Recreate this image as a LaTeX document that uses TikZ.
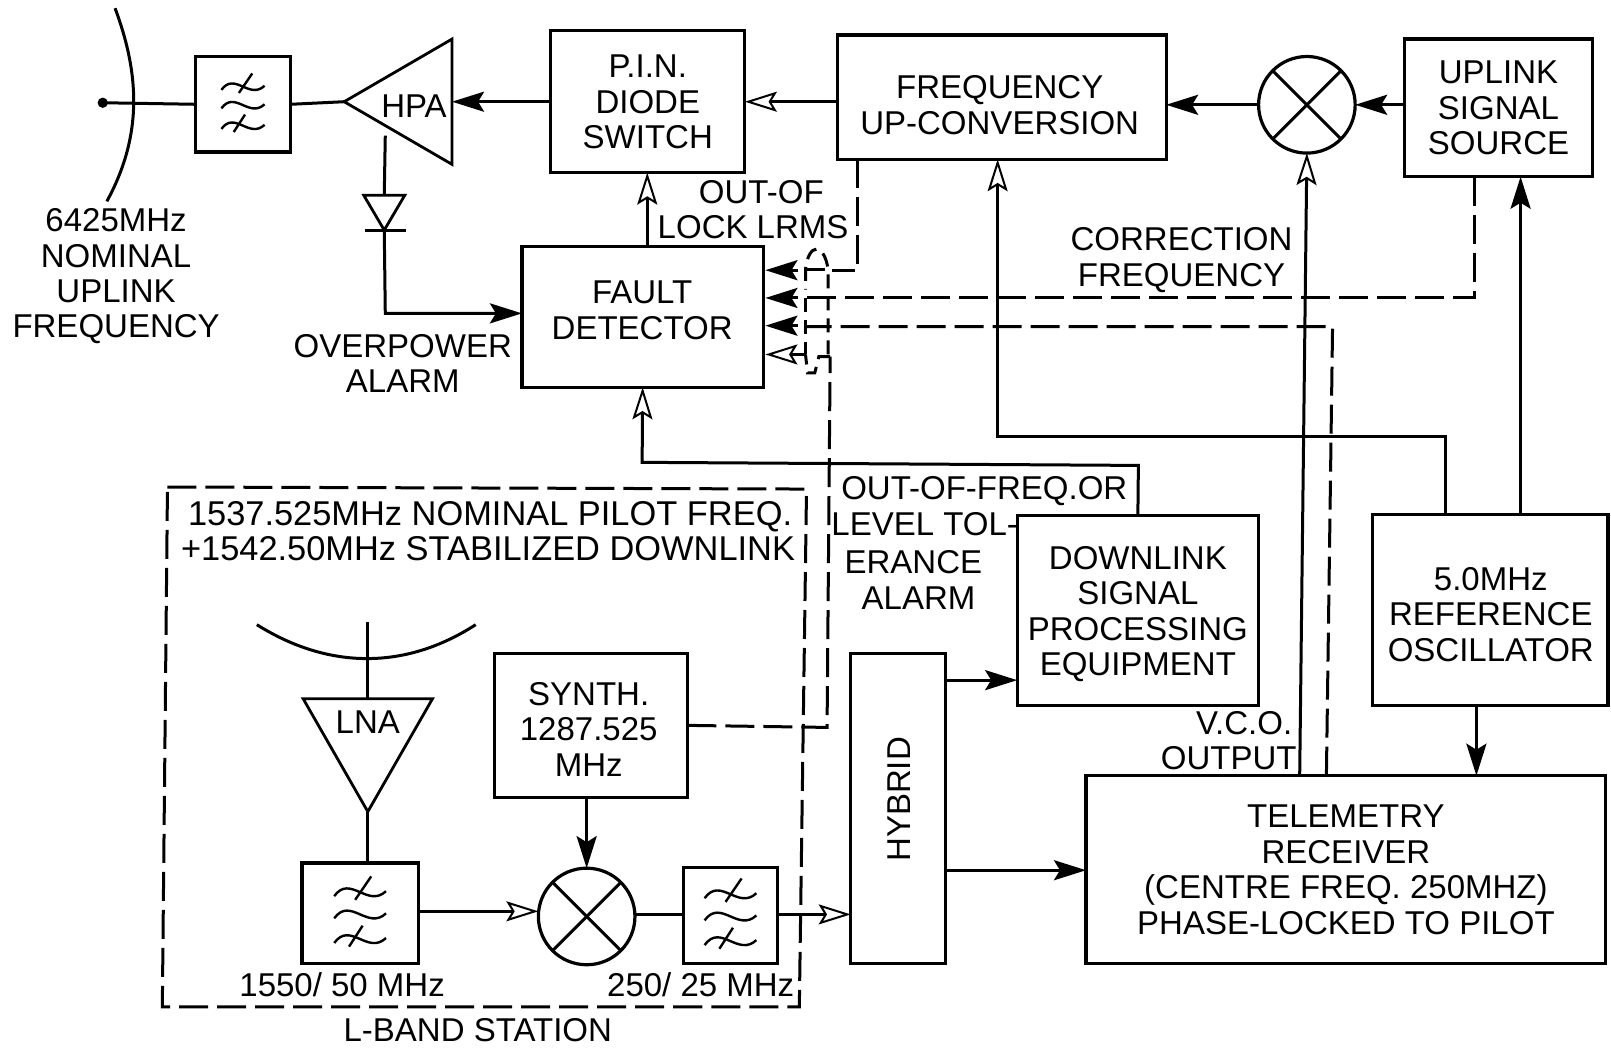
\documentclass[tikz,border=0pt]{standalone}
\usepackage{fontspec}
\setmainfont{Liberation Sans}
\usetikzlibrary{arrows.meta,shapes.geometric}
\newcommand{\unitpx}{0.5137pt}
\tikzset{
  labeltext/.style={inner sep=0pt, align=center, text depth=0pt, font=\fontsize{16.5}{17.7}\selectfont},
  blockbox/.style={draw, line width=1.6pt, inner sep=0pt, outer sep=0pt, align=center, text depth=0pt, font=\fontsize{16.5}{17.7}\selectfont},
  mixerbox/.style={draw, circle, line width=1.6pt, inner sep=0pt, outer sep=0pt, minimum size=94*\unitpx},
  ampbox/.style={draw, isosceles triangle, isosceles triangle stretches, line width=1.4pt, inner sep=0pt, outer sep=0pt},
  plainline/.style={line width=1.5pt},
  solidflow/.style={line width=1.5pt, -{Stealth[length=16pt,width=10pt,inset=3pt]}},
  openflow/.style={line width=1.5pt, -{Stealth[open,fill=white,line width=1pt,length=16pt,width=10pt,inset=3pt]}},
  dashline/.style={line width=1.5pt, dash pattern=on 14.5pt off 4.5pt},
  hopline/.style={line width=1.5pt, dash pattern=on 7pt off 4pt},
  filterwaves/.pic={
    \foreach \wavey in {-18,0,20}
      \draw[line width=1.2pt] (-21,\wavey+4) .. controls (-8,\wavey-14) and (6,\wavey+14) .. (21,\wavey);
    \draw[line width=1.2pt] (9,-30) -- (-4,-11);
    \draw[line width=1.2pt] (2,10) -- (-9,27);
  }
}
\begin{document}
\begin{tikzpicture}[x=\unitpx,y=-\unitpx]
\useasboundingbox (0,0) rectangle (1568,1021);
% uplink chain
\coordinate (feed) at (100,100);
\node[blockbox, minimum width=93*\unitpx, minimum height=93*\unitpx] (filtera) at (236.5,101.5) {};
\node[ampbox, shape border rotate=180, minimum width=122*\unitpx, minimum height=105*\unitpx, anchor=apex] (hpa) at (335,99) {};
\node[labeltext] (hpatext) at (403,103) {HPA};
\node[blockbox, minimum width=189*\unitpx, minimum height=138*\unitpx] (pin) at (630.5,99) {P.I.N.\\DIODE\\SWITCH};
\node[blockbox, minimum width=320*\unitpx, minimum height=121*\unitpx] (upconv) at (975,94.5) {};
\node[labeltext] (upconvtext) at (973,102) {FREQUENCY\\UP-CONVERSION};
\node[mixerbox] (mixera) at (1272,102) {};
\node[blockbox, minimum width=183*\unitpx, minimum height=134*\unitpx] (source) at (1458.5,105) {UPLINK\\SIGNAL\\SOURCE};
\node[blockbox, minimum width=235*\unitpx, minimum height=137*\unitpx] (fault) at (625.5,308.5) {};
\node[labeltext] (faulttext) at (625,302) {FAULT\\DETECTOR};
% diode
\node[ampbox, shape border rotate=-90, minimum width=40*\unitpx, minimum height=34*\unitpx, anchor=apex] (diode) at (374,224) {};
\coordinate (bara) at (355,224);
\coordinate (barb) at (395,224);
\coordinate (hpatap) at (375,132);
% lower right blocks
\node[blockbox, minimum width=235*\unitpx, minimum height=185*\unitpx] (downlink) at (1107.5,594.5) {DOWNLINK\\SIGNAL\\PROCESSING\\EQUIPMENT};
\node[blockbox, minimum width=229*\unitpx, minimum height=186*\unitpx] (refosc) at (1450.5,594) {};
\node[labeltext] (refosctext) at (1451,598) {5.0MHz\\REFERENCE\\OSCILLATOR};
\node[blockbox, minimum width=92*\unitpx, minimum height=302*\unitpx] (hybrid) at (874,787) {};
\node[labeltext, rotate=90] (hybridtext) at (875,778) {HYBRID};
\node[blockbox, minimum width=506*\unitpx, minimum height=183*\unitpx] (telemetry) at (1310,846.5) {TELEMETRY\\RECEIVER\\(CENTRE FREQ. 250MHZ)\\PHASE-LOCKED TO PILOT};
% l-band station
\node[ampbox, shape border rotate=-90, minimum width=126*\unitpx, minimum height=110*\unitpx, anchor=apex] (lna) at (358,790) {};
\node[labeltext] (lnatext) at (358,703) {LNA};
\node[blockbox, minimum width=113*\unitpx, minimum height=98*\unitpx] (filterb) at (350.5,889) {};
\node[mixerbox] (mixerb) at (571,892) {};
\node[blockbox, minimum width=92*\unitpx, minimum height=94*\unitpx] (filterc) at (711,891) {};
\node[blockbox, minimum width=188*\unitpx, minimum height=140*\unitpx] (synth) at (575,706) {};
\node[labeltext] (synthtext) at (573,710) {SYNTH.\\1287.525\\MHz};
\pic (wavesa) at (filtera) {filterwaves};
\pic[scale=1.2] (wavesb) at (filterb) {filterwaves};
\pic[scale=1.2] (wavesc) at (filterc) {filterwaves};
\foreach \mixername in {mixera,mixerb} {
  \draw[plainline] (\mixername.45) -- (\mixername.225);
  \draw[plainline] (\mixername.135) -- (\mixername.315);
}
% texts
\node[labeltext] (uplinkfreq) at (113,266) {6425MHz\\NOMINAL\\UPLINK\\FREQUENCY};
\node[labeltext] (overpower) at (392,354) {OVERPOWER\\ALARM};
\node[labeltext] (outoflocka) at (741,187) {OUT-OF};
\node[labeltext] (outoflockb) at (733,221) {LOCK LRMS};
\node[labeltext] (correction) at (1150,250) {CORRECTION\\FREQUENCY};
\node[labeltext] (toleranceb) at (958,475) {OUT-OF-FREQ.OR};
\node[labeltext] (tolerancec) at (900,510) {LEVEL TOL-};
\node[labeltext] (toleranced) at (889,547) {ERANCE};
\node[labeltext] (tolerancee) at (894,582) {ALARM};
\node[labeltext] (vco) at (1211,704) {V.C.O.};
\node[labeltext] (vcoout) at (1196,738) {OUTPUT};
\node[labeltext, font=\fontsize{17.2}{17.7}\selectfont] (pilotfreq) at (477,500) {1537.525MHz NOMINAL PILOT FREQ.};
\node[labeltext, font=\fontsize{17.2}{17.7}\selectfont] (stabilized) at (475,534) {+1542.50MHz STABILIZED DOWNLINK};
\node[labeltext] (widthb) at (333,958) {1550/ 50 MHz};
\node[labeltext] (widthc) at (682,958) {250/ 25 MHz};
\node[labeltext] (lbandname) at (465,1002) {L-BAND STATION};
% aerials
\draw[plainline] (112,8) .. controls (135,70) and (140,130) .. (104,196);
\fill (feed) circle (5);
\draw[plainline] (feed) -- (filtera.west);
\draw[plainline] (250,608) .. controls (320,652) and (395,652) .. (463,608);
\coordinate (lnafeed) at (358,605);
\draw[plainline] (lnafeed) -- (lna.lower side);
% solid connectors
\draw[plainline] (filtera.east) -- (hpa.apex);
\draw[solidflow] (pin.west) -- (hpa.lower side);
\draw[openflow] (upconv.west |- pin.east) -- (pin.east);
\draw[solidflow] (mixera.west) -- (upconv.east |- mixera.west);
\draw[solidflow] (source.west |- mixera.east) -- (mixera.east);
\draw[openflow] (fault.north -| 630,0) -- (pin.south -| 630,0);
\draw[plainline] (hpatap) -- (diode.lower side);
\draw[plainline] (bara) -- (barb);
\draw[solidflow] (diode.apex) -- (375,305) -- (fault.west |- 0,305);
\coordinate (osctapa) at (1407,501);
\coordinate (osctapb) at (1480,501);
\coordinate (upconvin) at (971,155);
\draw[openflow] (osctapa) -- (1407,425) -- (971,425) -- (upconvin);
\draw[solidflow] (osctapb) -- (1480,172);
\draw[solidflow] (refosc.south -| 1437,0) -- (telemetry.north -| 1437,0);
\coordinate (vcotap) at (1265,755);
\draw[openflow] (vcotap) -- (mixera.south);
\draw[openflow] (downlink.north) -- (1108,453) -- (625,450) -- (fault.south);
\draw[solidflow] (hybrid.east |- 0,662) -- (downlink.west |- 0,662);
\draw[solidflow] (hybrid.east |- 0,847) -- (telemetry.west |- 0,847);
\draw[openflow] (filterc.east |- 0,890) -- (hybrid.west |- 0,890);
\draw[openflow] (filterb.east |- 0,887) -- (mixerb.west |- 0,887);
\draw[plainline] (mixerb.east |- 0,890) -- (filterc.west |- 0,890);
\draw[solidflow] (synth.south -| mixerb.north) -- (mixerb.north);
\draw[plainline] (lna.apex) -- (filterb.north -| lna.apex);
% dashed connectors
\draw[dashline] (163,474) -- (785,476) -- (778,980) -- (158,980) -- cycle;
\coordinate (upconvout) at (835,155);
\coordinate (sourceout) at (1435,172);
\coordinate (telemetryout) at (1291,755);
\begin{scope}[dashline]
\draw (upconvout) -- (835,263) -- (810,263);
\draw (sourceout) -- (1435,290) -- (784,290);
\draw (telemetryout) -- (1297,318) -- (783,318);
\draw (synth.east) -- (805,708) -- (808,347);
\end{scope}
\draw[plainline] (803,262) -- (784,262);
\draw[hopline] (784,290) -- (784,345);
\draw[hopline] (806,345) -- (806,262) .. controls (802,236) and (787,236) .. (784,262) -- (784,282);
\draw[hopline] (808,347) -- (797,347) -- (793,363) -- (786,363) -- (784,345);
\coordinate (faulta) at (745,263);
\coordinate (faultb) at (745,290);
\coordinate (faultc) at (745,317);
\coordinate (faultd) at (745,345);
\draw[solidflow] (777,263) -- (faulta);
\draw[solidflow] (777,290) -- (faultb);
\draw[solidflow] (777,317) -- (faultc);
\draw[openflow] (784,345) -- (faultd);
\end{tikzpicture}
\end{document}
